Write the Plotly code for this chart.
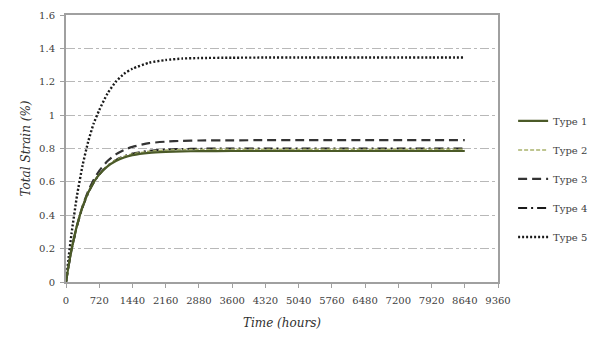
import plotly.graph_objects as go

# Elapsed time (hours) at which strain was sampled
hours = [0, 60, 120, 240, 360, 480, 600, 720, 900, 1080, 1260, 1440, 1800,
         2160, 2520, 2880, 3600, 4320, 5040, 5760, 6480, 7200, 7920, 8640]

# Total strain (%) for each specimen type
type1 = [0, 0.104, 0.196, 0.341, 0.452, 0.535, 0.597, 0.644, 0.693, 0.725, 0.746, 0.760,
         0.774, 0.780, 0.783, 0.784, 0.785, 0.785, 0.785, 0.785, 0.785, 0.785, 0.785, 0.785]
type2 = [0, 0.103, 0.193, 0.340, 0.451, 0.534, 0.598, 0.646, 0.697, 0.731, 0.753, 0.767,
         0.783, 0.790, 0.793, 0.794, 0.795, 0.795, 0.795, 0.795, 0.795, 0.795, 0.795, 0.795]
type3 = [0, 0.102, 0.191, 0.340, 0.455, 0.544, 0.613, 0.666, 0.725, 0.765, 0.792, 0.810,
         0.832, 0.841, 0.846, 0.848, 0.849, 0.850, 0.850, 0.850, 0.850, 0.850, 0.850, 0.850]
type4 = [0, 0.102, 0.191, 0.336, 0.447, 0.531, 0.595, 0.644, 0.697, 0.731, 0.754, 0.770,
         0.787, 0.794, 0.797, 0.799, 0.800, 0.800, 0.800, 0.800, 0.800, 0.800, 0.800, 0.800]
type5 = [0, 0.155, 0.290, 0.520, 0.700, 0.840, 0.950, 1.030, 1.130, 1.200, 1.248, 1.278,
         1.314, 1.330, 1.339, 1.342, 1.344, 1.345, 1.345, 1.345, 1.345, 1.345, 1.345, 1.345]

x_ticks = list(range(0, 9361, 720))
y_ticks = [0, 0.2, 0.4, 0.6, 0.8, 1.0, 1.2, 1.4, 1.6]
y_labels = ["0", "0.2", "0.4", "0.6", "0.8", "1", "1.2", "1.4", "1.6"]

series = [
    ("Type 1", type1, dict(color="#4b5a28", width=2.2, dash="solid")),
    ("Type 2", type2, dict(color="#a9b36c", width=1.6, dash="4px,2px")),
    ("Type 3", type3, dict(color="#333333", width=2.2, dash="9px,5px")),
    ("Type 4", type4, dict(color="#1a1a1a", width=2.0, dash="9px,4px,2px,4px")),
    ("Type 5", type5, dict(color="#1a1a1a", width=2.4, dash="2px,2px")),
]

fig = go.Figure()
# Type 1 is drawn last so it sits on top; legendrank keeps the legend in order
for i, (name, vals, line) in enumerate(series):
    fig.add_trace(go.Scatter(
        x=hours, y=vals, mode="lines", name=name,
        line=dict(shape="spline", smoothing=0.6, **line),
        legendgroup=name, legendrank=i + 1,
    ))
fig.data = fig.data[::-1]

font_family = "DejaVu Serif, serif"
fig.update_layout(
    width=595, height=339,
    margin=dict(l=66, r=97, t=15, b=57, autoexpand=False),
    paper_bgcolor="white", plot_bgcolor="white",
    font=dict(family=font_family, size=10, color="#404040"),
    showlegend=True,
    legend=dict(
        x=1.035, xanchor="left", y=0.386, yanchor="middle",
        font=dict(family=font_family, size=10, color="#404040"),
        tracegroupgap=10, traceorder="grouped", itemwidth=30,
        bgcolor="rgba(0,0,0,0)",
    ),
    xaxis=dict(
        range=[0, 9360], tickmode="array", tickvals=x_ticks,
        ticktext=[str(t) for t in x_ticks],
        showgrid=False, zeroline=False,
        showline=True, linecolor="#a0a0a0", linewidth=2, mirror=True,
        ticks="outside", ticklen=4, tickcolor="#a0a0a0", tickwidth=1,
        ticklabelstandoff=4,
        tickfont=dict(family=font_family, size=10, color="#404040"),
        title=dict(text="<i>Time (hours)</i>",
                   font=dict(family=font_family, size=12, color="#303030"),
                   standoff=14),
    ),
    yaxis=dict(
        range=[0, 1.6], tickmode="array", tickvals=y_ticks, ticktext=y_labels,
        showgrid=True, gridcolor="#b8b8b8", gridwidth=1, griddash="dashdot",
        zeroline=False,
        showline=True, linecolor="#a0a0a0", linewidth=2, mirror=True,
        ticks="outside", ticklen=4, tickcolor="#a0a0a0", tickwidth=1,
        ticklabelstandoff=3,
        tickfont=dict(family=font_family, size=10, color="#404040"),
        title=dict(text="<i>Total Strain (%)</i>",
                   font=dict(family=font_family, size=12, color="#303030"),
                   standoff=6),
    ),
)

fig.write_html("out.html")
